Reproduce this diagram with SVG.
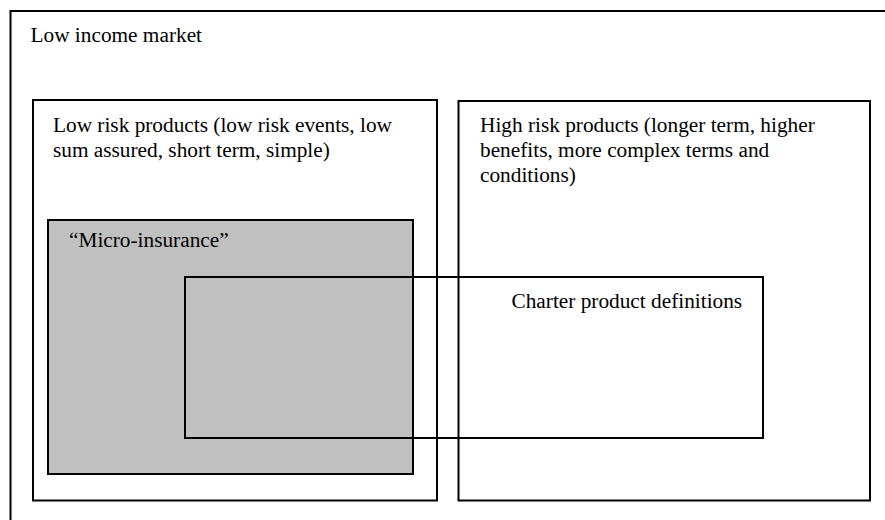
<svg xmlns="http://www.w3.org/2000/svg" width="885" height="520" viewBox="0 0 885 520">
  <style>
    .box { fill: none; stroke: #000; stroke-width: 2; }
    .shaded { fill: #c0c0c0; stroke: #000; stroke-width: 2; }
    .label { font-family: "Liberation Serif", "Times New Roman", serif; font-size: 21.3px; fill: #000; }
  </style>
  <rect width="885" height="520" fill="#fff"/>

  <!-- outer market frame, running off the page edges -->
  <g id="low-income-market">
    <rect class="box" x="10.5" y="11" width="890" height="530"/>
    <text class="label" x="30.5" y="42">Low income market</text>
  </g>

  <g id="low-risk-products">
    <rect class="box" x="33" y="100" width="404" height="400.5"/>
    <text class="label" x="53" y="131.5">Low risk products (low risk events, low</text>
    <text class="label" x="53" y="156.5">sum assured, short term, simple)</text>
  </g>

  <g id="high-risk-products">
    <rect class="box" x="458.5" y="101" width="411.5" height="399.5"/>
    <text class="label" x="480" y="131.5">High risk products (longer term, higher</text>
    <text class="label" x="480" y="156.5">benefits, more complex terms and</text>
    <text class="label" x="480" y="181.5">conditions)</text>
  </g>

  <g id="micro-insurance">
    <rect class="shaded" x="48" y="220" width="365" height="254"/>
    <text class="label" x="69" y="246.5">“Micro-insurance”</text>
  </g>

  <!-- overlapping definition area, unfilled so the shading shows through -->
  <g id="charter-product-definitions">
    <rect class="box" x="185" y="277" width="578" height="161"/>
    <text class="label" x="511.5" y="308">Charter product definitions</text>
  </g>

  <g id="connectors"/>
</svg>
